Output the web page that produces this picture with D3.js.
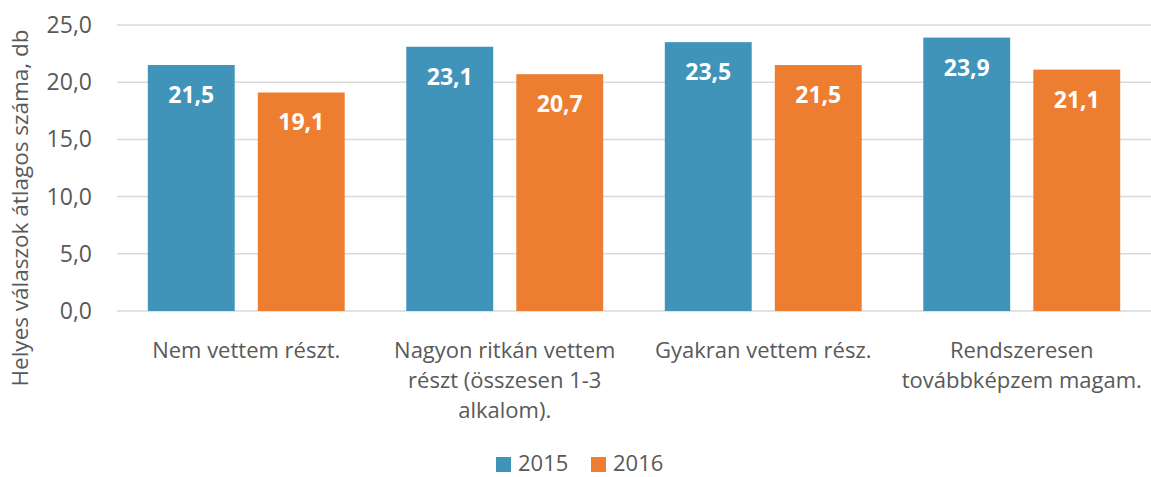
<!DOCTYPE html>
<html>
<head>
<meta charset="utf-8">
<script src="https://cdn.jsdelivr.net/npm/d3@7"></script>
<style>
  body { margin: 0; background: #fff; }
  svg text { font-family: "Open Sans", sans-serif; }
</style>
</head>
<body>
<svg id="chart" width="1151" height="477"></svg>
<script>
// categories (with their wrapped lines), series, values
const categories = ["Nem vettem részt.",
                    "Nagyon ritkán vettem részt (összesen 1-3 alkalom).",
                    "Gyakran vettem rész.",
                    "Rendszeresen továbbképzem magam."];
const catLines = [["Nem vettem részt."],
                  ["Nagyon ritkán vettem", "részt (összesen 1-3", "alkalom)."],
                  ["Gyakran vettem rész."],
                  ["Rendszeresen", "továbbképzem magam."]];
const series = ["2015", "2016"];
const vals2015 = [21.5, 23.1, 23.5, 23.9];
const vals2016 = [19.1, 20.7, 21.5, 21.1];
const yTicks = [0, 5, 10, 15, 20, 25];
const colors = ["#4194B9", "#ED7D31"];
const yTitle = "Helyes válaszok átlagos száma, db";

const svg = d3.select("#chart");
const plot = { left: 117, right: 1151, top: 25, bottom: 311 };
const fmt = v => v.toFixed(1).replace(".", ",");

// scales
const x0 = d3.scaleBand().domain(categories).range([plot.left, plot.right]).padding(0);
const x1 = d3.scaleBand().domain(series).range([0, x0.bandwidth()])
    .paddingInner(0.21).paddingOuter(0.28);
const y = d3.scaleLinear().domain([0, 25]).range([plot.bottom, plot.top]);

// gridlines
svg.append("g").selectAll("line").data(yTicks).join("line")
    .attr("x1", plot.left).attr("x2", plot.right)
    .attr("y1", d => y(d)).attr("y2", d => y(d))
    .attr("stroke", "#D9D9D9").attr("stroke-width", 1.5);

// y tick labels
svg.append("g").selectAll("text").data(yTicks).join("text")
    .attr("x", 92).attr("y", d => y(d)).attr("dy", "0.35em")
    .attr("text-anchor", "end").attr("fill", "#595959")
    .style("font-size", "23px").text(fmt);

// y title
svg.append("text")
    .attr("transform", "translate(28, 208) rotate(-90)")
    .attr("text-anchor", "middle").attr("fill", "#595959")
    .style("font-size", "22.5px").text(yTitle);

// bars
const rows = categories.map((c, i) => ({ cat: c, vals: [vals2015[i], vals2016[i]] }));
const groups = svg.append("g").selectAll("g").data(rows).join("g")
    .attr("transform", d => "translate(" + x0(d.cat) + ",0)");
groups.selectAll("rect").data(d => d.vals.map((v, k) => ({ s: series[k], v: v, k: k }))).join("rect")
    .attr("x", d => x1(d.s)).attr("y", d => y(d.v))
    .attr("width", x1.bandwidth()).attr("height", d => y(0) - y(d.v))
    .attr("fill", d => colors[d.k]);
groups.selectAll("text").data(d => d.vals.map((v, k) => ({ s: series[k], v: v, k: k }))).join("text")
    .attr("x", d => x1(d.s) + x1.bandwidth() / 2).attr("y", d => y(d.v) + 38)
    .attr("text-anchor", "middle").attr("fill", "#fff")
    .style("font-size", "23px").style("font-weight", "bold").text(d => fmt(d.v));

// x labels
const xl = svg.append("g").selectAll("text").data(categories).join("text")
    .attr("x", d => x0(d) + x0.bandwidth() / 2).attr("y", 358)
    .attr("text-anchor", "middle").attr("fill", "#595959")
    .style("font-size", "22px");
xl.selectAll("tspan").data((d, i) => catLines[i]).join("tspan")
    .attr("x", function () { return this.parentNode.getAttribute("x"); })
    .attr("dy", (d, j) => j === 0 ? 0 : 30).text(d => d);

// legend
const leg = svg.append("g").selectAll("g").data(series).join("g")
    .attr("transform", (d, i) => "translate(" + (496 + i * 95) + ",457)");
leg.append("rect").attr("width", 15).attr("height", 15).attr("fill", (d, i) => colors[i]);
leg.append("text").attr("x", 22).attr("y", 14)
    .attr("fill", "#595959").style("font-size", "22px").text(d => d);
</script>
</body>
</html>
